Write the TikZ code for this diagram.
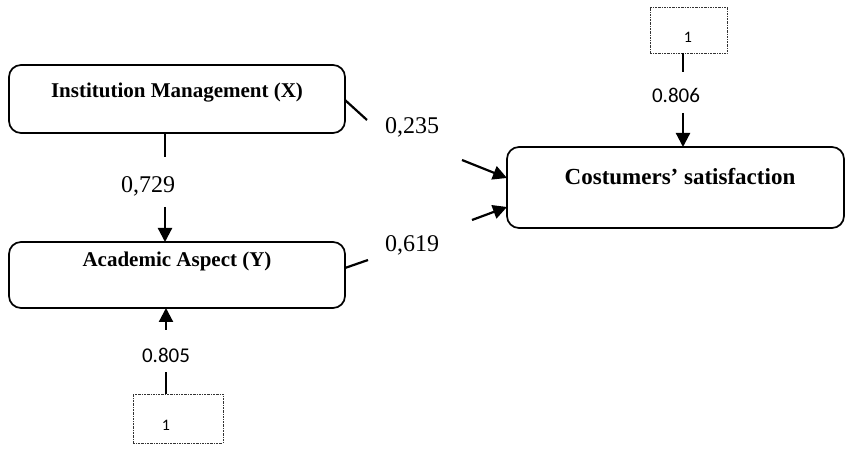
\documentclass[tikz,border=0pt]{standalone}
\usepackage{fontspec}
\setmainfont{Liberation Serif}
\newfontfamily\numsans{Carlito}
\usetikzlibrary{arrows.meta}
\begin{document}
\begin{tikzpicture}[x=1pt,y=-1pt,
  varbox/.style={draw,line width=1.7pt,rounded corners=12pt,inner sep=0pt},
  errbox/.style={draw,gray!40!black,line width=0.7pt,dash pattern=on 2pt off 1pt on 0.6pt off 1pt,inner sep=0pt},
  boxtext/.style={font=\bfseries\fontsize{21}{23}\selectfont,inner sep=0pt},
  coef/.style={font=\fontsize{24}{26}\selectfont,inner sep=0pt},
  coefsans/.style={font=\numsans\fontsize{21}{23}\selectfont,inner sep=0pt},
  onetext/.style={font=\numsans\fontsize{16}{17}\selectfont,inner sep=0pt},
  link/.style={line width=2.2pt},
  arr/.style={line width=2.2pt,-{Triangle[length=14pt,width=14pt]}}]
\useasboundingbox (0,0) rectangle (846,454);
% boxes
\node[varbox,minimum width=336pt,minimum height=68pt] (X) at (177,99) {};
\node[boxtext] (Xt) at (177,93) {Institution Management (X)};
\node[varbox,minimum width=336pt,minimum height=66pt] (Y) at (177,275) {};
\node[boxtext] (Yt) at (177,261) {Academic Aspect (Y)};
\node[varbox,minimum width=337pt,minimum height=81pt] (C) at (675.5,187.5) {};
\node[boxtext,font=\bfseries\fontsize{23}{25}\selectfont] (Ct) at (680,177) {Costumers’ satisfaction};
% error boxes
\node[errbox,minimum width=77pt,minimum height=46pt] (E1) at (688.5,30) {};
\node[onetext] (E1t) at (688,37) {1};
\node[errbox,minimum width=90pt,minimum height=49pt] (E2) at (178,418.5) {};
\node[onetext] (E2t) at (166,425) {1};
% X -> Y
\coordinate (xb) at (165,133);
\coordinate (xm) at (165,157);
\coordinate (ym) at (165,207);
\coordinate (yt) at (165,242);
\draw[link] (xb) -- (xm);
\node[coef] (l729) at (148,186) {0,729};
\draw[arr] (ym) -- (yt);
% X -> C
\coordinate (xe) at (345,100);
\coordinate (xe2) at (367,120);
\draw[link] (xe) -- (xe2);
\node[coef] (l235) at (412,127) {0,235};
\coordinate (c1s) at (462,160);
\coordinate (c1e) at (507,178);
\draw[arr] (c1s) -- (c1e);
% Y -> C
\coordinate (ye) at (345,268);
\coordinate (ye2) at (368,260);
\draw[link] (ye) -- (ye2);
\node[coef] (l619) at (412,245) {0,619};
\coordinate (c2s) at (472,220);
\coordinate (c2e) at (507,207);
\draw[arr] (c2s) -- (c2e);
% E1 -> C
\coordinate (e1b) at (683,53);
\coordinate (e1m) at (683,72);
\draw[link] (e1b) -- (e1m);
\node[coefsans] (l806) at (676,95) {0.806};
\coordinate (e1a) at (683,113);
\coordinate (ct) at (683,147);
\draw[arr] (e1a) -- (ct);
% E2 -> Y
\coordinate (e2t) at (166,394);
\coordinate (e2m) at (166,372);
\draw[link] (e2t) -- (e2m);
\node[coefsans] (l805) at (166,355) {0.805};
\coordinate (e2a) at (166,330);
\coordinate (yb) at (166,308);
\draw[arr] (e2a) -- (yb);
\end{tikzpicture}
\end{document}
